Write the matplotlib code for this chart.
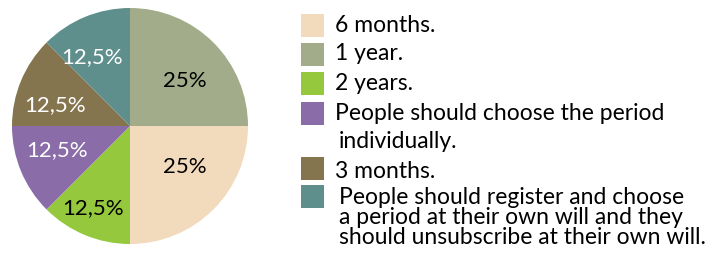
import matplotlib
matplotlib.use('Agg')
import matplotlib.pyplot as plt
from matplotlib.patches import Rectangle

# slices in clockwise order from 12 o'clock
slice_labels = ['1 year.', '6 months.', '2 years.',
                'People should choose the period individually.',
                '3 months.',
                'People should register and choose a period at their own will '
                'and they should unsubscribe at their own will.']
slice_values = [25, 25, 12.5, 12.5, 12.5, 12.5]
slice_colors = ['#A3AC8A', '#F2DBBD', '#95C83D', '#8A6CA8', '#85754F', '#5E8F8C']
pct_colors = ['black', 'black', 'black', 'white', 'white', 'white']

# legend rows (order as in the picture), each entry: colour index, text lines
legend_order = [1, 0, 2, 3, 4, 5]
legend_lines = [['6 months.'],
                ['1 year.'],
                ['2 years.'],
                ['People should choose the period', 'individually.'],
                ['3 months.'],
                ['People should register and choose',
                 'a period at their own will and they',
                 'should unsubscribe at their own will.']]

plt.rcParams['font.family'] = ['Lato', 'DejaVu Sans']

W, H = 720, 256
fig = plt.figure(figsize=(W / 100, H / 100), dpi=100)

ax = fig.add_axes([12 / W, 12 / H, 236 / W, 236 / H])
wedges, texts, autotexts = ax.pie(
    slice_values, colors=slice_colors, startangle=90, counterclock=False,
    autopct=lambda p: ('%g%%' % p).replace('.', ','), pctdistance=0.66,
    textprops={'fontsize': 16})

# the percentage labels are not exactly on the bisectors in the original
label_pos = [(0.466, 0.381), (0.466, -0.347), (-0.314, -0.695),
             (-0.619, -0.203), (-0.636, 0.178), (-0.322, 0.585)]
for t, c, p in zip(autotexts, pct_colors, label_pos):
    t.set_color(c)
    t.set_position(p)
ax.set_xlim(-1, 1)
ax.set_ylim(-1, 1)

# legend drawn by hand to follow the uneven line spacing of the original
sq_y = [25, 54, 83, 113, 168, 196]     # square centres in px from top
line_step = 20.5
for row, (ci, lines) in enumerate(zip(legend_order, legend_lines)):
    yc = sq_y[row]
    fig.add_artist(Rectangle((301 / W, (H - yc - 11.5) / H), 23 / W, 23 / H,
                             transform=fig.transFigure,
                             facecolor=slice_colors[ci], edgecolor='none'))
    for k, line in enumerate(lines):
        x = 339 if (row == 5 or (row == 3 and k == 1)) else 335
        if row == 3 and k == 1:
            y = 141
        elif row == 4:
            y = 172
        else:
            y = yc + k * line_step + (1 if row == 5 else 0)
        fig.text(x / W, (H - y) / H, line, fontsize=16.5, va='center', ha='left')

fig.savefig('out.png', dpi=100)
